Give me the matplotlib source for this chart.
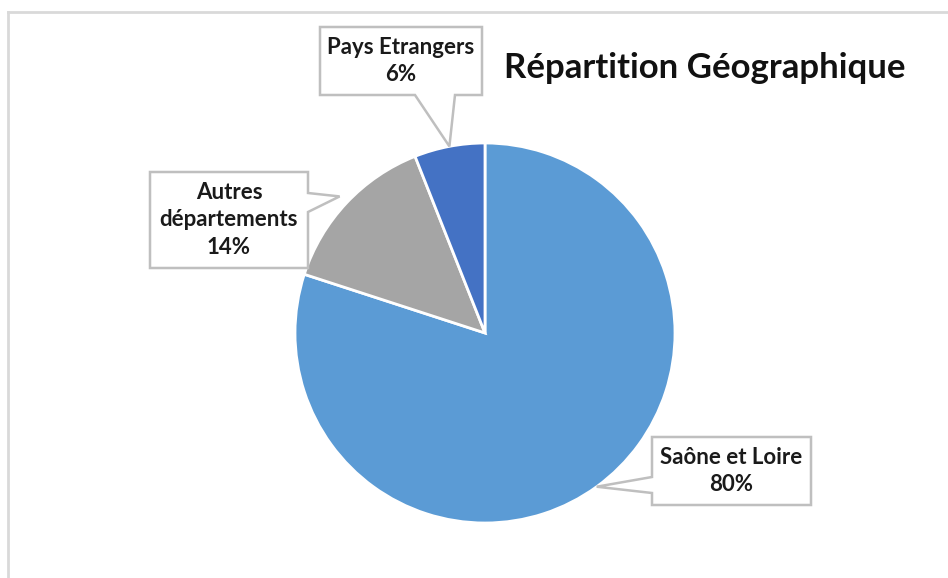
import numpy as np
import matplotlib.pyplot as plt
from matplotlib.patches import Polygon
from matplotlib.lines import Line2D

# Data of the chart
labels = ['Saône et Loire', 'Autres\ndépartements', 'Pays Etrangers']
values = [80, 14, 6]
colors = ['#5B9BD5', '#A5A5A5', '#4472C4']

plt.rcParams['font.family'] = ['Lato', 'DejaVu Sans']

W, H = 948, 578
fig = plt.figure(figsize=(W / 100, H / 100), dpi=100)
ax = fig.add_axes([0, 0, 1, 1])

# chart border (light gray, top and left visible)
fig.add_artist(Line2D([8 / W, 1.0], [1 - 12 / H, 1 - 12 / H], color='#D9D9D9', lw=2))
fig.add_artist(Line2D([8 / W, 8 / W], [0, 1 - 12 / H], color='#D9D9D9', lw=2))

cx, cy, r = 485, H - 333, 190
wedges, _ = ax.pie(values, colors=colors, startangle=90, counterclock=False,
                   center=(cx, cy), radius=r, frame=True,
                   wedgeprops=dict(edgecolor='white', linewidth=2))
ax.set_xlim(0, W)
ax.set_ylim(0, H)
ax.set_aspect('equal')
ax.axis('off')

# callout boxes: (left, top, right, bottom) in pixels, side of the pointer, pointer base
boxes = [
    dict(box=(652, 437, 811, 505), side='left', base=(477, 493), rt=1.0),
    dict(box=(150, 172, 308, 268), side='right', base=(193, 212), rt=1.05),
    dict(box=(320, 27, 482, 95), side='bottom', base=(415, 455), rt=1.0),
]

for w, lab, val, b in zip(wedges, labels, values, boxes):
    mid = np.deg2rad((w.theta1 + w.theta2) / 2)
    tx = cx + r * b['rt'] * np.cos(mid)
    ty = cy + r * b['rt'] * np.sin(mid)
    l, t, rr, bt = b['box']
    t, bt = H - t, H - bt
    b0, b1 = b['base']
    if b['side'] == 'left':
        pts = [(l, t), (rr, t), (rr, bt), (l, bt), (l, H - b1), (tx, ty), (l, H - b0)]
    elif b['side'] == 'right':
        pts = [(l, t), (rr, t), (rr, H - b0), (tx, ty), (rr, H - b1), (rr, bt), (l, bt)]
    else:
        pts = [(l, t), (rr, t), (rr, bt), (b1, bt), (tx, ty), (b0, bt), (l, bt)]
    ax.add_patch(Polygon(pts, closed=True, facecolor='white', edgecolor='#BFBFBF',
                         lw=1.8, zorder=5))
    ax.text((l + rr) / 2, (t + bt) / 2, f'{lab}\n{val}%', ha='center', va='center',
            fontsize=16, fontweight='bold', color='#1a1a1a', linespacing=1.4, zorder=6)

ax.text(705, H - 68, 'Répartition Géographique', ha='center', va='center',
        fontsize=25, fontweight='bold', color='#111111')

fig.savefig('out.png', dpi=100)
